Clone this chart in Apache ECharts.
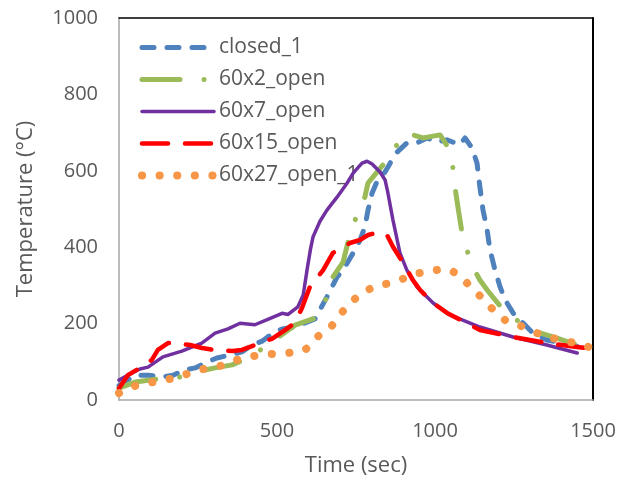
<!DOCTYPE html>
<html>
<head>
<meta charset="utf-8">
<script src="https://cdn.jsdelivr.net/npm/echarts@6/dist/echarts.min.js"></script>
<style>html,body{margin:0;padding:0;background:#fff;}#c{width:630px;height:484px;}</style>
</head>
<body>
<div id="c"></div>
<script>
const seriesNames = ['closed_1', '60x2_open', '60x7_open', '60x15_open', '60x27_open_1'];

const closedTime = [0, 51, 92, 136, 171, 209, 241, 278, 310, 351, 389, 421, 453, 487, 516, 557, 589, 620, 658, 690, 709, 741, 763, 778, 788, 801, 816, 842, 858, 880, 911, 943, 975, 1006, 1038, 1079, 1095, 1117, 1133, 1142, 1152, 1165, 1174, 1190, 1206, 1222, 1247, 1278, 1310, 1354, 1405, 1450];
const closedTemp = [38, 65, 65, 60, 65, 79, 84, 99, 110, 118, 126, 144, 154, 175, 186, 191, 202, 212, 270, 322, 340, 385, 419, 453, 497, 542, 571, 597, 620, 649, 673, 673, 686, 675, 681, 668, 686, 660, 620, 558, 497, 445, 393, 340, 296, 262, 228, 202, 175, 157, 149, 140];

const open2Time = [0, 51, 123, 193, 241, 304, 358, 408, 453, 557, 630, 658, 677, 709, 728, 747, 763, 778, 788, 851, 873, 889, 911, 962, 1016, 1041, 1054, 1063, 1073, 1085, 1104, 1120, 1142, 1165, 1209, 1259, 1323, 1386, 1449];
const open2Temp = [31, 47, 55, 60, 73, 84, 92, 110, 134, 196, 217, 270, 322, 361, 424, 471, 497, 531, 568, 631, 662, 675, 699, 686, 694, 662, 628, 558, 503, 440, 385, 348, 314, 288, 243, 209, 178, 162, 144];

const open7Time = [0, 19, 66, 92, 139, 199, 262, 304, 345, 383, 430, 471, 516, 535, 566, 583, 595, 606, 614, 636, 658, 690, 722, 741, 769, 785, 801, 826, 842, 851, 867, 889, 911, 943, 994, 1047, 1142, 1247, 1354, 1450];
const open7Temp = [52, 61, 81, 86, 113, 128, 149, 175, 186, 201, 197, 211, 227, 224, 244, 275, 340, 395, 427, 468, 497, 531, 568, 594, 620, 625, 618, 597, 576, 542, 471, 385, 340, 296, 254, 223, 191, 165, 144, 123];

const open15Time = [0, 28, 66, 104, 123, 155, 177, 225, 263, 304, 358, 389, 430, 453, 484, 525, 557, 579, 604, 646, 677, 731, 763, 788, 826, 848, 867, 899, 930, 953, 994, 1038, 1142, 1247, 1354, 1449, 1500];
const open15Temp = [31, 65, 84, 105, 131, 149, 149, 144, 136, 131, 128, 131, 144, 152, 160, 183, 202, 241, 296, 340, 385, 411, 419, 432, 440, 432, 401, 359, 314, 288, 254, 228, 183, 165, 149, 139, 134];

const open27Time = [0, 51, 108, 161, 215, 266, 320, 373, 424, 478, 535, 589, 627, 668, 699, 731, 769, 810, 858, 905, 946, 978, 1000, 1038, 1073, 1111, 1149, 1184, 1225, 1266, 1313, 1358, 1411, 1462, 1500];
const open27Temp = [18, 37, 47, 55, 68, 81, 89, 105, 115, 120, 123, 131, 165, 188, 223, 254, 280, 298, 306, 319, 332, 335, 340, 343, 330, 298, 267, 236, 207, 196, 178, 165, 154, 147, 134];

const xTicks = [0, 500, 1000, 1500];
const yTicks = [0, 200, 400, 600, 800, 1000];

const zip = (a, b) => a.map((v, i) => [v, b[i]]);

const styles = [
  { color: '#4F81BD', width: 5, type: [12, 13], cap: 'round' },
  { color: '#9BBB59', width: 5, type: [38, 24, 0.1, 24], cap: 'round' },
  { color: '#7030A0', width: 3.5, type: 'solid', cap: 'round' },
  { color: '#FF0000', width: 4.5, type: [26, 17], cap: 'round' },
  { color: '#F79646', width: 8, type: [0.1, 17.5], cap: 'round' }
];
const datasets = [
  zip(closedTime, closedTemp),
  zip(open2Time, open2Temp),
  zip(open7Time, open7Temp),
  zip(open15Time, open15Temp),
  zip(open27Time, open27Temp)
];

const font = "'Open Sans', 'Liberation Sans', sans-serif";
const textColor = '#595959';

const chart = echarts.init(document.getElementById('c'), null, { renderer: 'canvas' });
chart.setOption({
  animation: false,
  backgroundColor: '#ffffff',
  textStyle: { fontFamily: font, color: textColor },
  grid: { left: 119, right: 37, top: 18, bottom: 84, containLabel: false },
  legend: {
    orient: 'vertical',
    left: 133,
    top: 32,
    z: 1,
    itemWidth: 72,
    itemHeight: 20,
    itemGap: 11,
    itemStyle: { opacity: 0 },
    textStyle: { fontFamily: font, fontSize: 21, color: textColor },
    data: seriesNames.map((n, i) => ({
      name: n,
      itemStyle: { opacity: 0, borderWidth: 0 },
      lineStyle: { width: styles[i].width, type: styles[i].type, cap: styles[i].cap, color: styles[i].color, opacity: 1 }
    }))
  },
  xAxis: [{
    type: 'value', min: 0, max: 1500, interval: 500,
    name: 'Time (sec)', nameLocation: 'middle', nameGap: 55,
    nameTextStyle: { fontFamily: font, fontSize: 22, color: textColor },
    axisLine: { show: true, lineStyle: { color: '#A6A6A6', width: 1.5 } },
    axisTick: { show: false },
    splitLine: { show: false },
    axisLabel: { fontFamily: font, fontSize: 20, color: textColor, margin: 21,
      customValues: xTicks, formatter: v => String(v) }
  }, {
    type: 'value', min: 0, max: 1500, position: 'top',
    axisLine: { show: true, onZero: false, lineStyle: { color: '#000000', width: 1.5 } },
    axisTick: { show: false }, axisLabel: { show: false }, splitLine: { show: false }
  }],
  yAxis: [{
    type: 'value', min: 0, max: 1000, interval: 200,
    name: 'Temperature (°C)', nameLocation: 'middle', nameGap: 82,
    nameTextStyle: { fontFamily: font, fontSize: 22, color: textColor },
    axisLine: { show: true, lineStyle: { color: '#A6A6A6', width: 1.5 } },
    axisTick: { show: false },
    splitLine: { show: false },
    axisLabel: { fontFamily: font, fontSize: 20, color: textColor, margin: 21,
      customValues: yTicks, formatter: v => String(v) }
  }, {
    type: 'value', min: 0, max: 1000, position: 'right',
    axisLine: { show: true, onZero: false, lineStyle: { color: '#000000', width: 2 } },
    axisTick: { show: false }, axisLabel: { show: false }, splitLine: { show: false }
  }],
  series: seriesNames.map((n, i) => ({
    name: n,
    type: 'line',
    data: datasets[i],
    symbol: 'none',
    showSymbol: false,
    smooth: false,
    z: 2,
    lineStyle: { color: styles[i].color, width: styles[i].width, type: styles[i].type, cap: styles[i].cap, join: 'round' },
    itemStyle: { color: styles[i].color }
  }))
});
</script>
</body>
</html>
